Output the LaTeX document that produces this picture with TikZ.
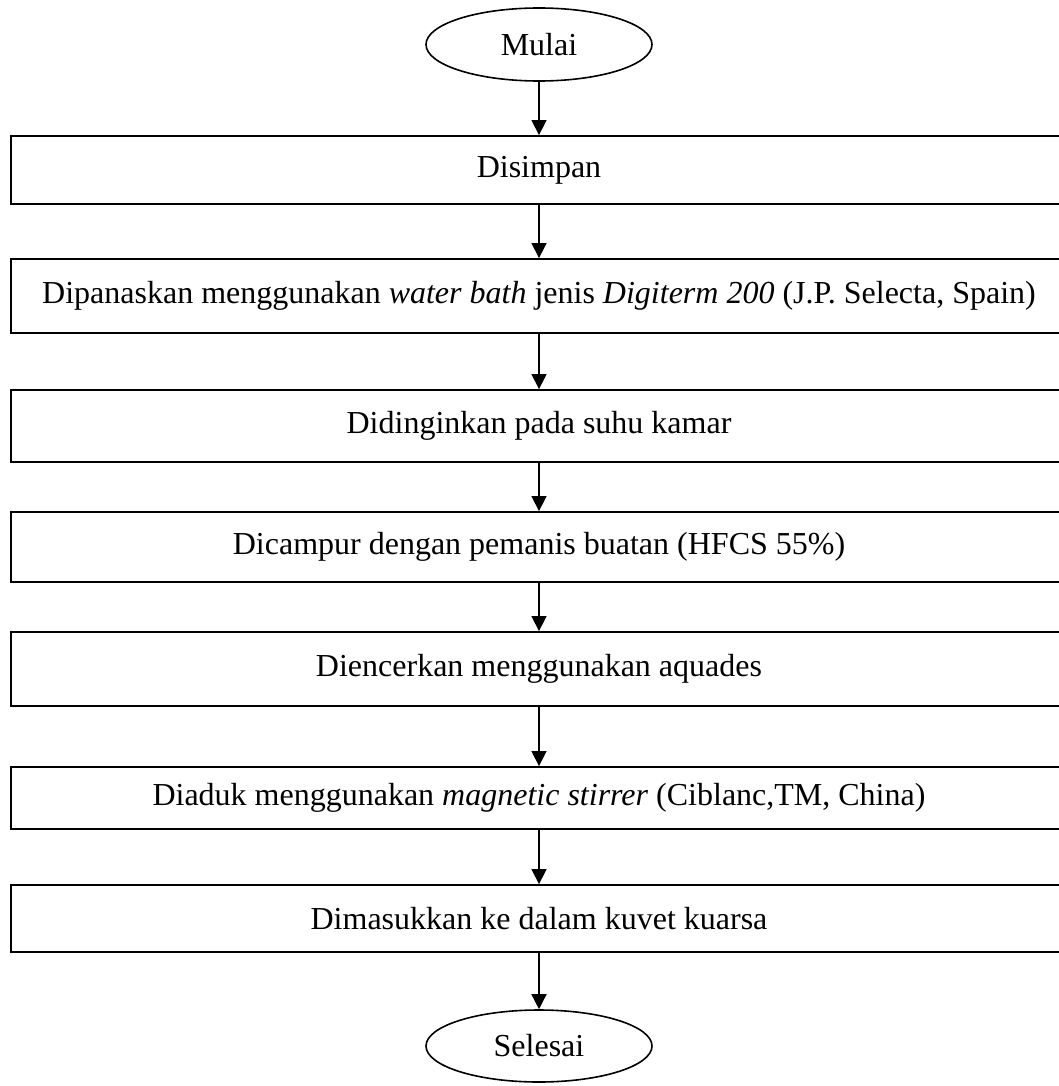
\documentclass[tikz,border=0pt]{standalone}
\usepackage{fontspec}
\setmainfont{Liberation Serif}
\usetikzlibrary{shapes.geometric,arrows.meta}
\tikzset{
    box/.style={draw, line width=0.9pt, minimum width=528pt, inner sep=0pt},
    oval/.style={draw, ellipse, line width=0.8pt, minimum width=113pt, minimum height=36.5pt, inner sep=0pt},
    arr/.style={line width=0.7pt, -{Triangle[width=7.5pt, length=7.5pt]}}
}
\begin{document}
\begin{tikzpicture}[x=0.5pt, y=-0.5pt, font=\fontsize{16pt}{19pt}\selectfont]
    \useasboundingbox (0, 0) rectangle (1059, 1086);
    \node[oval] (M) at (539, 44.5) {Mulai};
    \node[box, minimum height=34pt] (A) at (539, 170) {Disimpan};
    \node[box, minimum height=37pt] (B) at (539, 296) {Dipanaskan menggunakan \textit{water bath} jenis \textit{Digiterm 200} (J.P. Selecta, Spain)};
    \node[box, minimum height=36pt] (C) at (539, 426) {Didinginkan pada suhu kamar};
    \node[box, minimum height=35pt] (D) at (539, 547) {Dicampur dengan pemanis buatan (HFCS 55\%)};
    \node[box, minimum height=37pt] (E) at (539, 669) {Diencerkan menggunakan aquades};
    \node[box, minimum height=31pt] (F) at (539, 798) {Diaduk menggunakan \textit{magnetic stirrer} (Ciblanc,TM, China)};
    \node[box, minimum height=33.5pt] (G) at (539, 918.5) {Dimasukkan ke dalam kuvet kuarsa};
    \node[oval, minimum height=36pt] (S) at (539, 1046) {Selesai};
    \draw[arr] (M) -- (A);
    \draw[arr] (A) -- (B);
    \draw[arr] (B) -- (C);
    \draw[arr] (C) -- (D);
    \draw[arr] (D) -- (E);
    \draw[arr] (E) -- (F);
    \draw[arr] (F) -- (G);
    \draw[arr] (G) -- (S);
\end{tikzpicture}
\end{document}
